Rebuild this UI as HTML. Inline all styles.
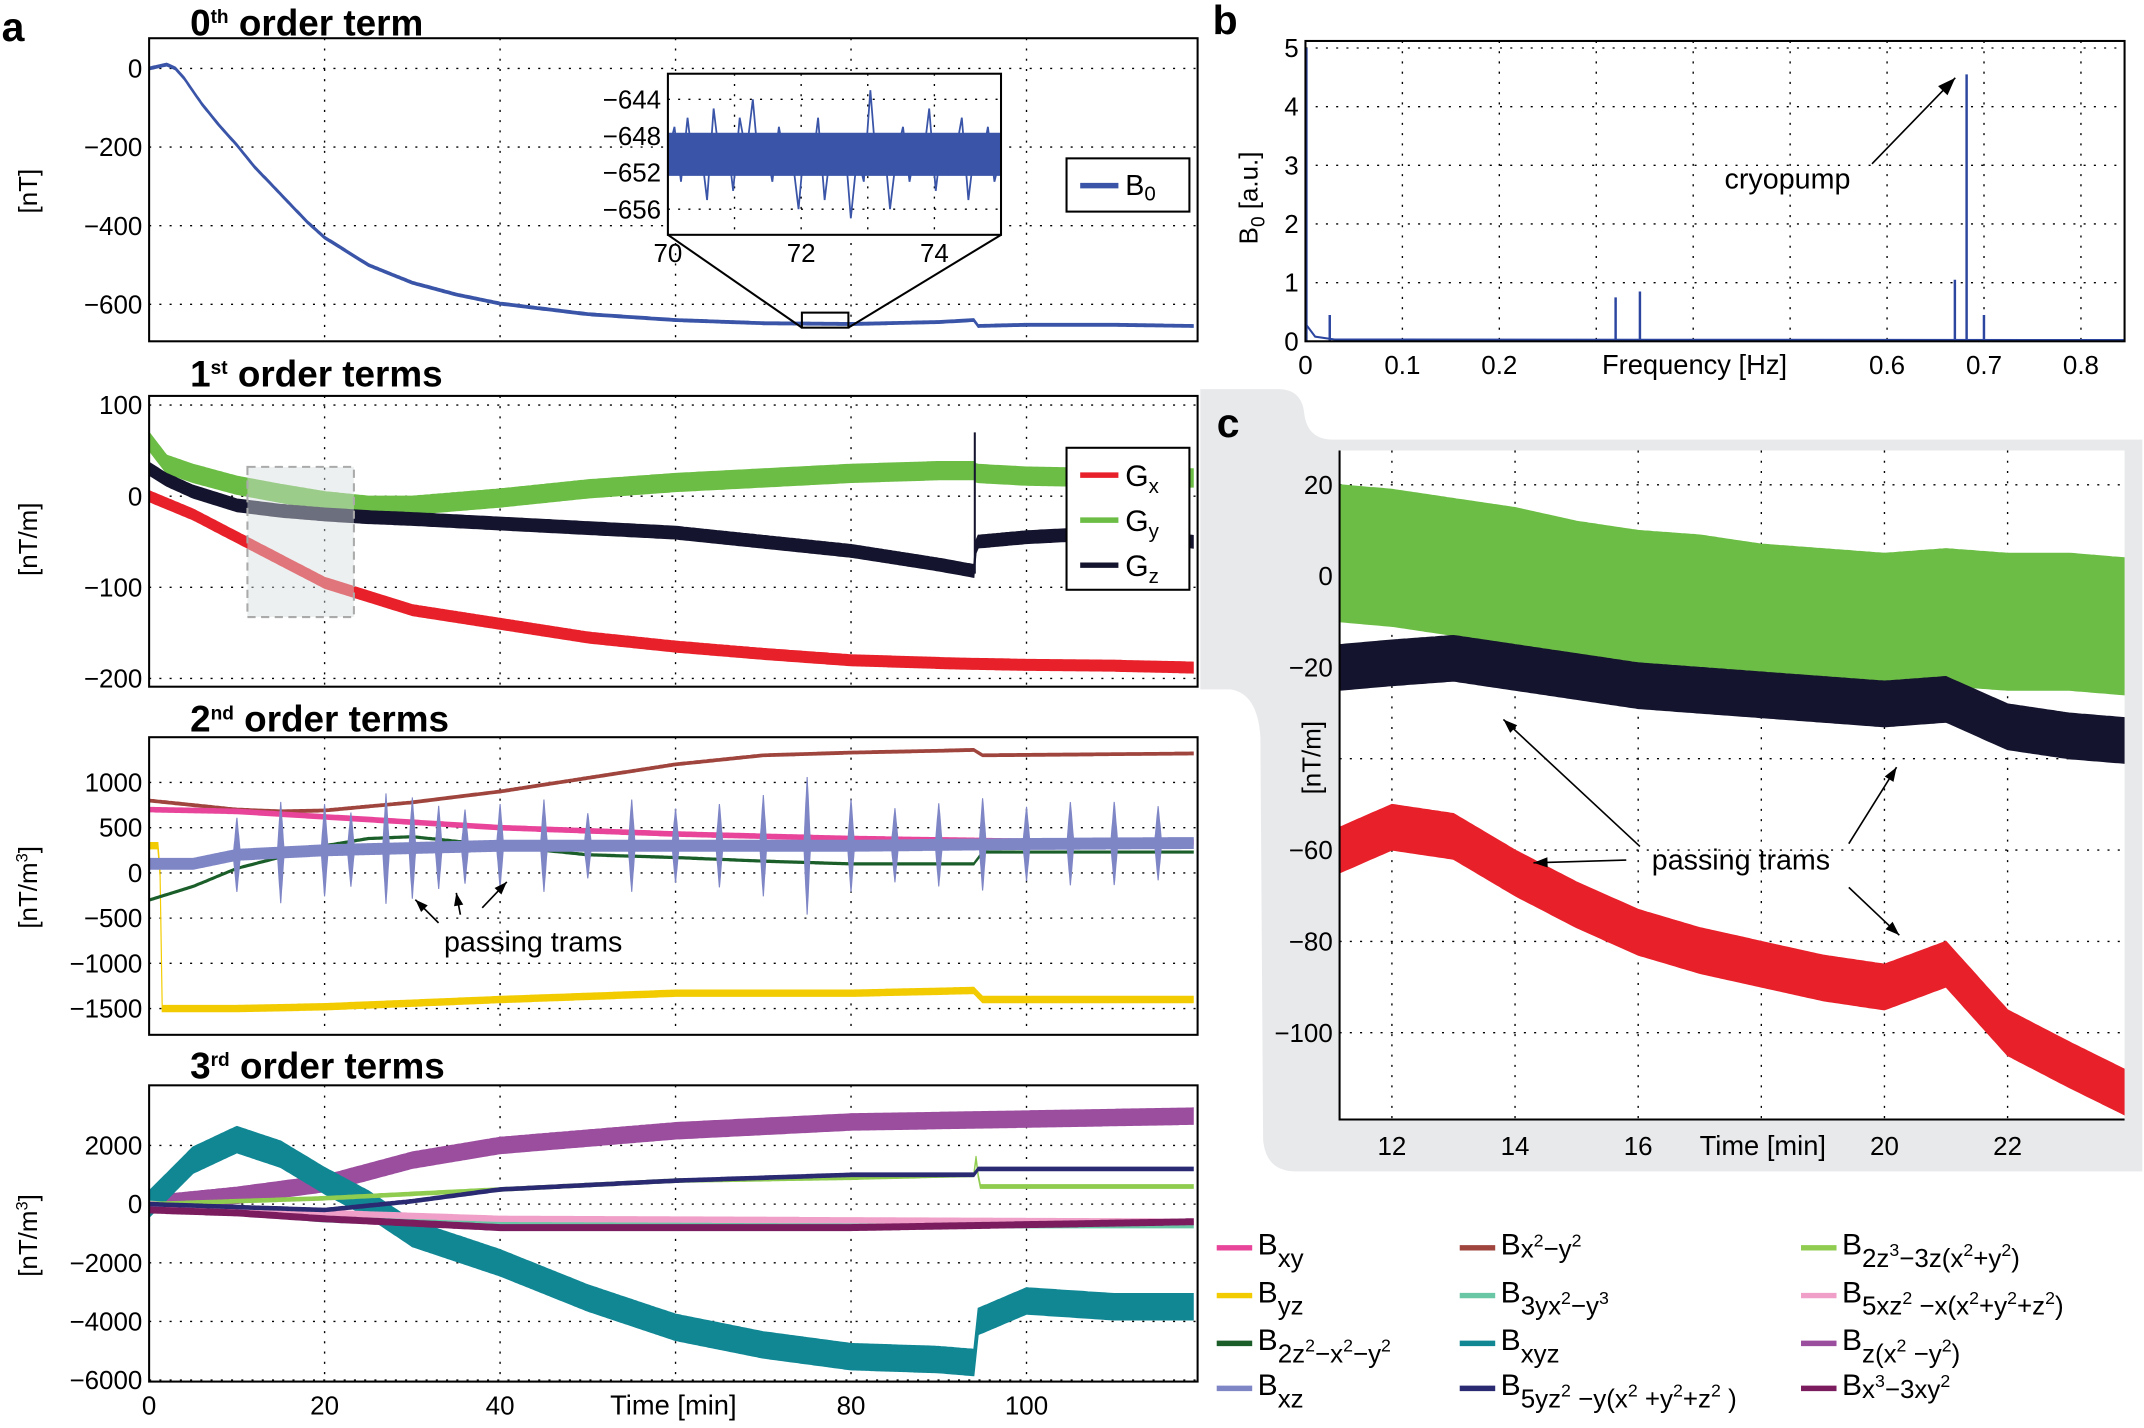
<!DOCTYPE html>
<html><head><meta charset="utf-8"><style>
html,body{margin:0;padding:0;background:#fff}
svg{display:block}
text{font-family:"Liberation Sans",sans-serif}
</style></head><body>
<svg id="fig" width="2144" height="1428" viewBox="0 0 1568 1046" xmlns="http://www.w3.org/2000/svg">
<path d="M878,285 L935,285 Q952,285 954,302 Q956,322 975,322 L1568,322 L1568,858 L948,858 Q926,858 924,835 L922,540 Q920,508 900,505 L878,505 Z" fill="#e8e9eb"/>
<g id="root"></g>
</svg>
<script>
// ---------- data ----------
const b0T=[0,1,2,3,4,6,8,10,12,15,18,20,25,30,35,40,50,60,70,80,90,94,94.5,100,110,119];
const b0V=[0,5,10,0,-25,-90,-145,-195,-250,-320,-390,-430,-500,-545,-575,-598,-625,-640,-648,-650,-645,-640,-655,-652,-652,-655];
const insetV=[-650,-647,-653,-646,-652,-649,-655,-645,-651,-648,-654,-646,-650,-644,-652,-649,-653,-647,-651,-650,-656,-648,-652,-646,-655,-649,-651,-648,-657,-650,-653,-643,-652,-648,-656,-650,-647,-653,-649,-651,-645,-654,-648,-652,-650,-646,-655,-649,-651,-647,-653,-650];
const gT=[0,2,5,10,15,20,25,30,40,50,60,70,80,90,94,94.3,100,110,119];
const gxV=[0,-8,-20,-45,-70,-95,-110,-125,-140,-155,-165,-173,-180,-183,-184,-184,-185,-186,-188];
const gyV=[60,35,25,12,3,-5,-10,-10,-2,8,15,20,25,28,28,25,22,20,20];
const gzV=[30,18,5,-10,-16,-20,-23,-25,-30,-35,-40,-50,-60,-75,-82,-50,-45,-40,-50];
const fT=[0.001,0.025,0.32,0.345,0.67,0.682,0.7];
const fV=[5,0.45,0.75,0.85,1.05,4.55,0.45];
const cT=[11.15,12,13,14,15,16,17,18,19,20,21,22,23,23.9];
const cGy=[5,4,2,0,-3,-5,-6,-8,-9,-10,-9,-10,-10,-11];
const cGz=[-20,-19,-18,-20,-22,-24,-25,-26,-27,-28,-27,-33,-35,-36];
const cGx=[-60,-55,-57,-65,-72,-78,-82,-85,-88,-90,-85,-100,-107,-113];
const s2={
 bx2y2:{t:[0,10,15,20,30,40,50,60,70,80,90,94,95,119],v:[800,700,680,690,780,900,1050,1200,1300,1330,1350,1360,1300,1320],a:15,c:"#a0453e"},
 bxy:{t:[0,10,20,30,40,60,80,100,119],v:[700,680,620,560,500,430,380,350,340],a:25,c:"#e8449a"},
 byz:{t:[0,1.2,1.5,10,20,40,60,80,94,95,119],v:[300,300,-1500,-1500,-1480,-1400,-1330,-1330,-1300,-1400,-1400],a:35,c:"#f2cc00"},
 b2z2:{t:[0,5,10,20,25,30,40,50,60,70,80,94,95,119],v:[-300,-150,50,300,380,400,300,200,170,130,100,100,230,230],a:12,c:"#1b5e2a"},
 bxz:{t:[0,5,10,20,40,60,80,100,119],v:[100,100,200,250,300,300,300,320,330],a:60,c:"#7f86c6"}
};
const tramT=[10,15,20,23,27,30,33,36,40,45,50,55,60,65,70,75,80,85,90,95,100,105,110,115];
const tramA=[350,500,450,350,550,500,400,350,400,450,300,450,350,400,500,700,450,350,400,450,350,400,400,350];
const s3={
 bxyz:{t:[0,5,10,15,20,25,30,40,50,60,70,80,90,94,94.5,100,110,119],v:[0,1500,2200,1700,800,0,-1000,-2000,-3200,-4200,-4800,-5200,-5300,-5400,-4000,-3300,-3500,-3500],a:450,c:"#118794"},
 bzx2:{t:[0,10,20,30,40,60,80,100,119],v:[0,300,700,1500,2000,2500,2800,2900,3000],a:280,c:"#9b4d9e"},
 b3yx2:{t:[0,20,40,60,119],v:[0,-500,-700,-700,-700],a:110,c:"#6ac7a6"},
 b5xz2:{t:[0,20,40,119],v:[0,-300,-500,-600],a:90,c:"#f0a0c8"},
 b2z3:{t:[0,20,40,60,80,94,94.3,94.6,119],v:[0,200,500,800,900,1000,1700,600,600],a:60,c:"#8fcc4f"},
 b5yz2:{t:[0,20,30,40,60,80,94,94.5,119],v:[0,-200,100,500,800,1000,1000,1200,1200],a:60,c:"#2a2a72"},
 bx3:{t:[0,10,20,40,60,80,100,119],v:[-200,-300,-500,-800,-800,-800,-700,-600],a:100,c:"#7a1c5e"}
};
const yt1=[0,-200,-400,-600], yt2=[100,0,-100,-200], yt3=[1000,500,0,-500,-1000,-1500], yt4=[2000,0,-2000,-4000,-6000];
const xtA=[0,20,40,80,100], ytB=[0,1,2,3,4,5], xtB=[0,0.1,0.2,0.6,0.7,0.8], ytC=[20,0,-20,-60,-80,-100], xtC=[12,14,16,20,22];
const insY=[-644,-648,-652,-656], insX=[70,72,74];

// ---------- helpers ----------
const NS="http://www.w3.org/2000/svg", root=document.getElementById('root');
function el(tag,attrs,parent){const e=document.createElementNS(NS,tag);for(const k in attrs)e.setAttribute(k,attrs[k]);(parent||root).appendChild(e);return e;}
function lin(d0,d1,r0,r1){return v=>r0+(v-d0)*(r1-r0)/(d1-d0);}
function interp(T,V,t){if(t<=T[0])return V[0];for(let i=1;i<T.length;i++){if(t<=T[i]){const f=(t-T[i-1])/(T[i]-T[i-1]);return V[i-1]+f*(V[i]-V[i-1]);}}return V[V.length-1];}
let clipN=0;
function axes(name,x0,x1,y0,y1,xd,yd,box){
  const sx=lin(xd[0],xd[1],x0,x1), sy=lin(yd[0],yd[1],y1,y0);
  const g=el('g',{});
  el('rect',{x:x0,y:y0,width:x1-x0,height:y1-y0,fill:'#fff'},g);
  const id='c'+(clipN++);const cp=el('clipPath',{id:id},g);el('rect',{x:x0,y:y0,width:x1-x0,height:y1-y0},cp);
  return {sx,sy,g,clip:'url(#'+id+')',x0,x1,y0,y1,box};
}
function grid(A,xs,ys,fs,labels){
  const g=A.g;
  xs.forEach(v=>{const x=A.sx(v);el('line',{x1:x,x2:x,y1:A.y0,y2:A.y1,stroke:'#000','stroke-width':1,'stroke-dasharray':'1.5,6'},g);});
  ys.forEach(v=>{const y=A.sy(v);el('line',{x1:A.x0,x2:A.x1,y1:y,y2:y,stroke:'#000','stroke-width':1,'stroke-dasharray':'1.5,6'},g);
    if(!labels||labels.indexOf(v)>=0){const t=el('text',{x:A.x0-5,y:y+fs*0.35,'font-size':fs,'text-anchor':'end'},g);t.textContent=(v<0?'\u2212'+(-v):v);}});
}
function frame(A){
  if(A.box) el('rect',{x:A.x0,y:A.y0,width:A.x1-A.x0,height:A.y1-A.y0,fill:'none',stroke:'#000','stroke-width':1.5},A.g);
  else el('path',{d:`M${A.x0},${A.y0}V${A.y1}H${A.x1}`,fill:'none',stroke:'#000','stroke-width':1.5},A.g);
}
function band(A,name,T,V,amp,color,t0,t1,step,spT,spA){
  const up=[],dn=[];
  for(let t=t0;t<=t1+1e-9;t+=step){let v=interp(T,V,t);let a=amp;
    if(spT){spT.forEach((s,i)=>{const d=Math.abs(t-s);if(d<0.35)a+=spA[i]*(1-d/0.35);});}
    up.push(A.sx(t).toFixed(1)+','+A.sy(v+a).toFixed(1));dn.unshift(A.sx(t).toFixed(1)+','+A.sy(v-a).toFixed(1));}
  const p=el('polygon',{points:up.concat(dn).join(' '),fill:color,stroke:color,'stroke-width':0.8,'clip-path':A.clip},A.g);
  
  
}
function line(A,name,T,V,color,w){
  const pts=T.map((t,i)=>A.sx(t).toFixed(1)+','+A.sy(V[i]).toFixed(1)).join(' ');
  const p=el('polyline',{points:pts,fill:'none',stroke:color,'stroke-width':w,'clip-path':A.clip},A.g);
  
  
}
function txt(x,y,s,fs,attrs,parent){const t=el('text',Object.assign({x:x,y:y,'font-size':fs},attrs||{}),parent);t.innerHTML=s;return t;}
function arrow(a,sz){el('line',{x1:a[0],y1:a[1],x2:a[2],y2:a[3],stroke:'#000','stroke-width':1.2});
 const ang=Math.atan2(a[3]-a[1],a[2]-a[0]);const hx=a[2],hy=a[3];
 el('polygon',{points:`${hx},${hy} ${hx-sz*Math.cos(ang-0.35)},${hy-sz*Math.sin(ang-0.35)} ${hx-sz*Math.cos(ang+0.35)},${hy-sz*Math.sin(ang+0.35)}`,fill:'#000'});}
const FS=19, TF=27;
const sup=(s)=>'<tspan font-size="14" dy="-9">'+s+'</tspan>';

// ---------- panel a1 ----------
const A1=axes('panel-a-0th-order',108,876,28,250,[0,119.5],[-694,77],true);
grid(A1,[20,40,60,80,100],yt1,FS);
band(A1,'b0-trace',b0T,b0V,3.5,'#3a55a8',0,119,0.25);
frame(A1);
txt(138,26,'0'+sup('th')+'<tspan dy="9"> order term</tspan>',TF,{'font-weight':'bold'});
txt(0,30,'a',30,{'font-weight':'bold'});
txt(0,0,'[nT]',FS,{transform:'translate(26,140) rotate(-90)','text-anchor':'middle'});
el('rect',{x:A1.sx(74.4),y:229,width:A1.sx(79.7)-A1.sx(74.4),height:11,fill:'none',stroke:'#000','stroke-width':1.5});
const IN=axes('inset-zoom',488,732,54,172,[70,75],[-658.8,-641.2],true);
el('line',{x1:488,y1:172,x2:A1.sx(74.4),y2:240,stroke:'#000','stroke-width':1.5});
el('line',{x1:732,y1:172,x2:A1.sx(79.7),y2:240,stroke:'#000','stroke-width':1.5});
grid(IN,[71,72,73,74],insY,FS);
insX.forEach(v=>{txt(IN.sx(v),192,v,FS,{'text-anchor':'middle'},IN.g);});
band(IN,'inset-b0-band',[70,75],[-650,-650],2.3,'#3a55a8',70,75,0.1);
const insT=insetV.map((v,i)=>70+i*5/(insetV.length-1));
line(IN,'inset-b0-trace',insT,insetV,'#3a55a8',1.3);
frame(IN);
const L1=el('g',{});
el('rect',{x:780,y:116,width:90,height:39,fill:'#fff',stroke:'#000','stroke-width':1.5},L1);
el('line',{x1:790,x2:818,y1:136,y2:136,stroke:'#3a55a8','stroke-width':4},L1);
txt(823,143,'B<tspan font-size="15" dy="4">0</tspan>',FS+2,{},L1);

// ---------- panel a2 ----------
const A2=axes('panel-a-1st-order',108,876,290,503,[0,119.5],[-209,110],true);
grid(A2,[20,40,60,80,100],yt2,FS);
band(A2,'gy-trace',gT,gyV,10,'#6cbd45',0,119,0.25);
band(A2,'gz-trace',gT,gzV,7,'#14142e',0,119,0.25);
band(A2,'gx-trace',gT,gxV,6,'#e8202a',0,119,0.25);
line(A2,'gz-jump',[94.1,94.1],[-85,70],'#14142e',1.5);
el('rect',{x:180,y:342,width:78,height:110,fill:'#d8dedd','fill-opacity':0.45,stroke:'#aaa','stroke-width':1.5,'stroke-dasharray':'6,4'},A2.g);
frame(A2);
txt(138,283,'1'+sup('st')+'<tspan dy="9"> order terms</tspan>',TF,{'font-weight':'bold'});
txt(0,0,'[nT/m]',FS,{transform:'translate(26,395) rotate(-90)','text-anchor':'middle'});
const L2=el('g',{});
el('rect',{x:780,y:328,width:90,height:104,fill:'#fff',stroke:'#000','stroke-width':1.5},L2);
[['G','x','#e8202a'],['G','y','#6cbd45'],['G','z','#14142e']].forEach((r,i)=>{const y=348+i*33;
 el('line',{x1:790,x2:818,y1:y,y2:y,stroke:r[2],'stroke-width':4},L2);
 txt(823,y+8,r[0]+'<tspan font-size="15" dy="5">'+r[1]+'</tspan>',FS+3,{},L2);});

// ---------- panel a3 ----------
const A3=axes('panel-a-2nd-order',108,876,540,758,[0,119.5],[-1790,1500],true);
grid(A3,[20,40,60,80,100],yt3,FS);
band(A3,'bx2y2-trace',s2.bx2y2.t,s2.bx2y2.v,s2.bx2y2.a,s2.bx2y2.c,0,119,0.25);
band(A3,'bxy-trace',s2.bxy.t,s2.bxy.v,s2.bxy.a,s2.bxy.c,0,119,0.25);
band(A3,'byz-trace',s2.byz.t,s2.byz.v,s2.byz.a,s2.byz.c,0,119,0.25);
band(A3,'b2z2-trace',s2.b2z2.t,s2.b2z2.v,s2.b2z2.a,s2.b2z2.c,0,119,0.25);
band(A3,'bxz-trace',s2.bxz.t,s2.bxz.v,s2.bxz.a,s2.bxz.c,0,119,0.05,tramT,tramA);
frame(A3);
txt(138,536,'2'+sup('nd')+'<tspan dy="9"> order terms</tspan>',TF,{'font-weight':'bold'});
txt(0,0,'[nT/m<tspan font-size="12" dy="-7">3</tspan><tspan dy="7">]</tspan>',FS,{transform:'translate(26,650) rotate(-90)','text-anchor':'middle'});
txt(324,697,'passing trams',FS+2,{});
[[320,676,303,659],[336,670,333,654],[352,665,370,646]].forEach(a=>arrow(a,10));

// ---------- panel a4 ----------
const A4=axes('panel-a-3rd-order',108,876,795,1012,[0,119.5],[-6050,4050],true);
grid(A4,[20,40,60,80,100],yt4,FS);
xtA.forEach(v=>{txt(A4.sx(v),1036,v,FS,{'text-anchor':'middle'});});
txt(492,1036,'Time [min]',FS+1,{'text-anchor':'middle'});
['bzx2','bxyz','b3yx2','b5xz2','b2z3','b5yz2','bx3'].forEach(k=>{const s=s3[k];band(A4,k+'-trace',s.t,s.v,s.a,s.c,0,119,0.25);});
frame(A4);
txt(138,790,'3'+sup('rd')+'<tspan dy="9"> order terms</tspan>',TF,{'font-weight':'bold'});
txt(0,0,'[nT/m<tspan font-size="12" dy="-7">3</tspan><tspan dy="7">]</tspan>',FS,{transform:'translate(26,905) rotate(-90)','text-anchor':'middle'});

// ---------- panel b ----------
const B=axes('panel-b-spectrum',955,1555,30,250,[0,0.845],[0,5.12],true);
grid(B,[0.1,0.2,0.3,0.4,0.5,0.6,0.7,0.8],ytB,FS);
xtB.forEach(v=>{txt(B.sx(v),274,v,FS,{'text-anchor':'middle'});});
txt(1240,274,'Frequency [Hz]',FS+1,{'text-anchor':'middle'});
line(B,'spectrum-baseline',[0,0.01,0.03,0.845],[0.3,0.08,0.03,0.02],'#2c46a0',1.5);
fT.forEach((f,i)=>{line(B,'spectrum-peak',[f,f],[0,fV[i]],'#2c46a0',1.8);});
frame(B);
txt(887,25,'b',30,{'font-weight':'bold'});
txt(0,0,'B<tspan font-size="14" dy="5">0</tspan><tspan dy="-5"> [a.u.]</tspan>',FS,{transform:'translate(920,145) rotate(-90)','text-anchor':'middle'});
txt(1262,138,'cryopump',FS+2,{});
arrow([1370,120,1431,57],14);

// ---------- panel c ----------
const C=axes('panel-c-zoom',980,1555,330,820,[11.15,23.9],[-119,27.5],false);
grid(C,[12,14,16,18,20,22],[20,0,-20,-40,-60,-80,-100],FS,ytC);
xtC.forEach(v=>{txt(C.sx(v),846,v,FS,{'text-anchor':'middle'});});
txt(1290,846,'Time [min]',FS+1,{'text-anchor':'middle'});
band(C,'c-gy-trace',cT,cGy,15,'#6cbd45',11.15,23.9,0.05);
band(C,'c-gz-trace',cT,cGz,5,'#14142e',11.15,23.9,0.05);
band(C,'c-gx-trace',cT,cGx,5,'#e8202a',11.15,23.9,0.05);
frame(C);
txt(890,320,'c',30,{'font-weight':'bold'});
txt(0,0,'[nT/m]',FS,{transform:'translate(966,555) rotate(-90)','text-anchor':'middle'});
txt(1274,637,'passing trams',FS+2,{'text-anchor':'middle'});
[[1200,620,1100,527],[1190,630,1122,632],[1353,618,1388,562],[1353,650,1390,685]].forEach(a=>arrow(a,11));

// ---------- bottom legend ----------
const sp=(s)=>'<tspan font-size="13" dy="-8">'+s+'</tspan>';
const nb=(s)=>'<tspan dy="8">'+s+'</tspan>';
const legItems=[
 [890,917,'#e8449a','xy'],[890,952,'#f2cc00','yz'],[890,987,'#1b5e2a','2z'+sp('2')+nb('\u2212x')+sp('2')+nb('\u2212y')+sp('2')],[890,1020,'#7f86c6','xz'],
 [1068,917,'#a0453e','x'+sp('2')+nb('\u2212y')+sp('2'),'up'],[1068,952,'#6ac7a6','3yx'+sp('2')+nb('\u2212y')+sp('3')],[1068,987,'#118794','xyz'],[1068,1020,'#2a2a72','5yz'+sp('2')+nb(' \u2212y(x')+sp('2')+nb(' +y')+sp('2')+nb('+z')+sp('2')+nb(' )')],
 [1318,917,'#8fcc4f','2z'+sp('3')+nb('\u22123z(x')+sp('2')+nb('+y')+sp('2')+nb(')')],[1318,952,'#f0a0c8','5xz'+sp('2')+nb(' \u2212x(x')+sp('2')+nb('+y')+sp('2')+nb('+z')+sp('2')+nb(')')],[1318,987,'#9b4d9e','z(x'+sp('2')+nb(' \u2212y')+sp('2')+nb(')')],[1318,1020,'#7a1c5e','x'+sp('3')+nb('\u22123xy')+sp('2'),'up']
];
const LG=el('g',{});
legItems.forEach(it=>{
 const g=el('g',{},LG);
 
 
 el('line',{x1:it[0],x2:it[0]+26,y1:it[1]-3,y2:it[1]-3,stroke:it[2],'stroke-width':4},g);
 const sub=it[4]==='up'?'dy="2"':'dy="9"';
 txt(it[0]+30,it[1]+2,'B<tspan font-size="19" '+sub+'>'+it[3]+'</tspan>',22,{},g);
});
</script>
</body></html>
